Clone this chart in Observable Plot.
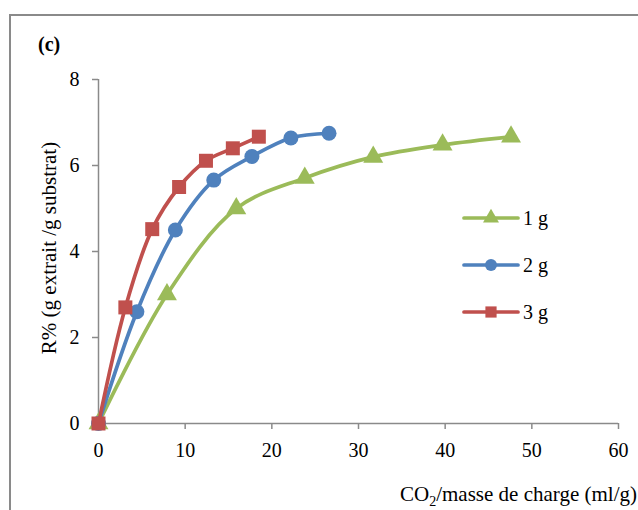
<!DOCTYPE html>
<html>
<head>
<meta charset="utf-8">
<script src="https://cdn.jsdelivr.net/npm/d3@7"></script>
<script src="https://cdn.jsdelivr.net/npm/@observablehq/plot@0.6"></script>
<style>
  html, body { margin: 0; padding: 0; background: #fff; }
  #wrap { position: relative; width: 638px; height: 510px; overflow: hidden; }
  #frame { position: absolute; left: 9px; top: 14px; width: 700px; height: 600px;
           border-top: 2px solid #8a8a8a; border-left: 2px solid #8a8a8a; }
  #wrap svg { position: absolute; left: 0; top: 0; }
</style>
</head>
<body>
<div id="wrap"><div id="frame"></div></div>
<script>
// Extraction yield versus CO2 volume per charge mass, for three charge masses
const series = ["1 g", "2 g", "3 g"];
const colors = ["#9BBB59", "#4F81BD", "#C0504D"];
const symbols = ["triangle", "circle", "square"];

const co2_1g = [0, 7.9, 15.9, 23.8, 31.7, 39.7, 47.6];
const yield_1g = [0, 3.0, 5.0, 5.71, 6.2, 6.48, 6.67];

const co2_2g = [0, 4.43, 8.87, 13.3, 17.7, 22.2, 26.6];
const yield_2g = [0, 2.6, 4.5, 5.66, 6.21, 6.64, 6.75];

const co2_3g = [0, 3.1, 6.2, 9.3, 12.4, 15.5, 18.5];
const yield_3g = [0, 2.7, 4.52, 5.5, 6.11, 6.4, 6.67];

const xTicks = [0, 10, 20, 30, 40, 50, 60];
const yTicks = [0, 2, 4, 6, 8];

const xs = [co2_1g, co2_2g, co2_3g];
const ys = [yield_1g, yield_2g, yield_3g];
const rows = series.flatMap((s, i) => xs[i].map((x, j) => ({series: s, x, y: ys[i][j]})));

const axisGray = "#8a8a8a";
const font = "'Liberation Serif', 'Times New Roman', serif";
const markerR = {triangle: 7.4, circle: 7.5, square: 7.9};

const seriesMarks = series.flatMap((s, i) => {
  const data = rows.filter(d => d.series === s);
  return [
    Plot.line(data, {x: "x", y: "y", stroke: colors[i], strokeWidth: 3.7, curve: "catmull-rom"}),
    Plot.dot(data, {x: "x", y: "y", symbol: symbols[i], fill: colors[i], r: markerR[symbols[i]]})
  ];
});

const chart = Plot.plot({
  width: 638,
  height: 510,
  marginLeft: 98,
  marginRight: 20,
  marginTop: 79,
  marginBottom: 87,
  x: {domain: [0, 60]},
  y: {domain: [0, 8]},
  style: `font-family: ${font}; font-size: 20px; background: transparent; color: black; overflow: visible;`,
  marks: [
    Plot.axisX({ticks: xTicks, tickSize: 6, tickPadding: 13, stroke: axisGray, strokeWidth: 1.5, fill: "black", label: null, fontFamily: font}),
    Plot.axisY({ticks: yTicks, tickSize: 6, tickPadding: 13, stroke: axisGray, strokeWidth: 1.5, fill: "black", label: null, fontFamily: font}),
    Plot.ruleX([0], {stroke: axisGray, strokeWidth: 1.5}),
    Plot.ruleY([0], {stroke: axisGray, strokeWidth: 1.5}),
    ...seriesMarks
  ]
});

document.getElementById("wrap").appendChild(chart);

const svg = d3.select(chart);

// Panel tag
svg.append("text")
  .attr("x", 38).attr("y", 51).attr("text-anchor", "start")
  .attr("font-family", font).attr("font-size", 20).attr("font-weight", "bold")
  .text("(c)");

// Y axis title
svg.append("text")
  .attr("transform", "translate(49,248) rotate(-90)")
  .attr("text-anchor", "middle").attr("dominant-baseline", "central")
  .attr("font-family", font).attr("font-size", 21)
  .text("R% (g extrait /g substrat)");

// X axis title with subscript
const xt = svg.append("text")
  .attr("x", 637).attr("y", 501)
  .attr("text-anchor", "end")
  .attr("font-family", font).attr("font-size", 21);
xt.append("tspan").text("CO");
xt.append("tspan").attr("font-size", 14).attr("dy", 5).text("2");
xt.append("tspan").attr("dy", -5).text("/masse de charge (ml/g)");

// Legend
const legend = svg.append("g").attr("font-family", font).attr("font-size", 20).attr("text-anchor", "start");
const legendY = [218, 265, 312];
series.forEach((s, i) => {
  const g = legend.append("g").attr("transform", `translate(0,${legendY[i]})`);
  g.append("line").attr("x1", 464).attr("x2", 518).attr("y1", 0).attr("y2", 0)
    .attr("stroke", colors[i]).attr("stroke-width", 3.7).attr("stroke-linecap", "round");
  const type = {triangle: d3.symbolTriangle, circle: d3.symbolCircle, square: d3.symbolSquare}[symbols[i]];
  const r = markerR[symbols[i]] * 0.8;
  g.append("path").attr("transform", "translate(491,0)")
    .attr("d", d3.symbol(type, Math.PI * r * r)()).attr("fill", colors[i]);
  g.append("text").attr("x", 523).attr("y", 0).attr("dominant-baseline", "central").text(s);
});
</script>
</body>
</html>
